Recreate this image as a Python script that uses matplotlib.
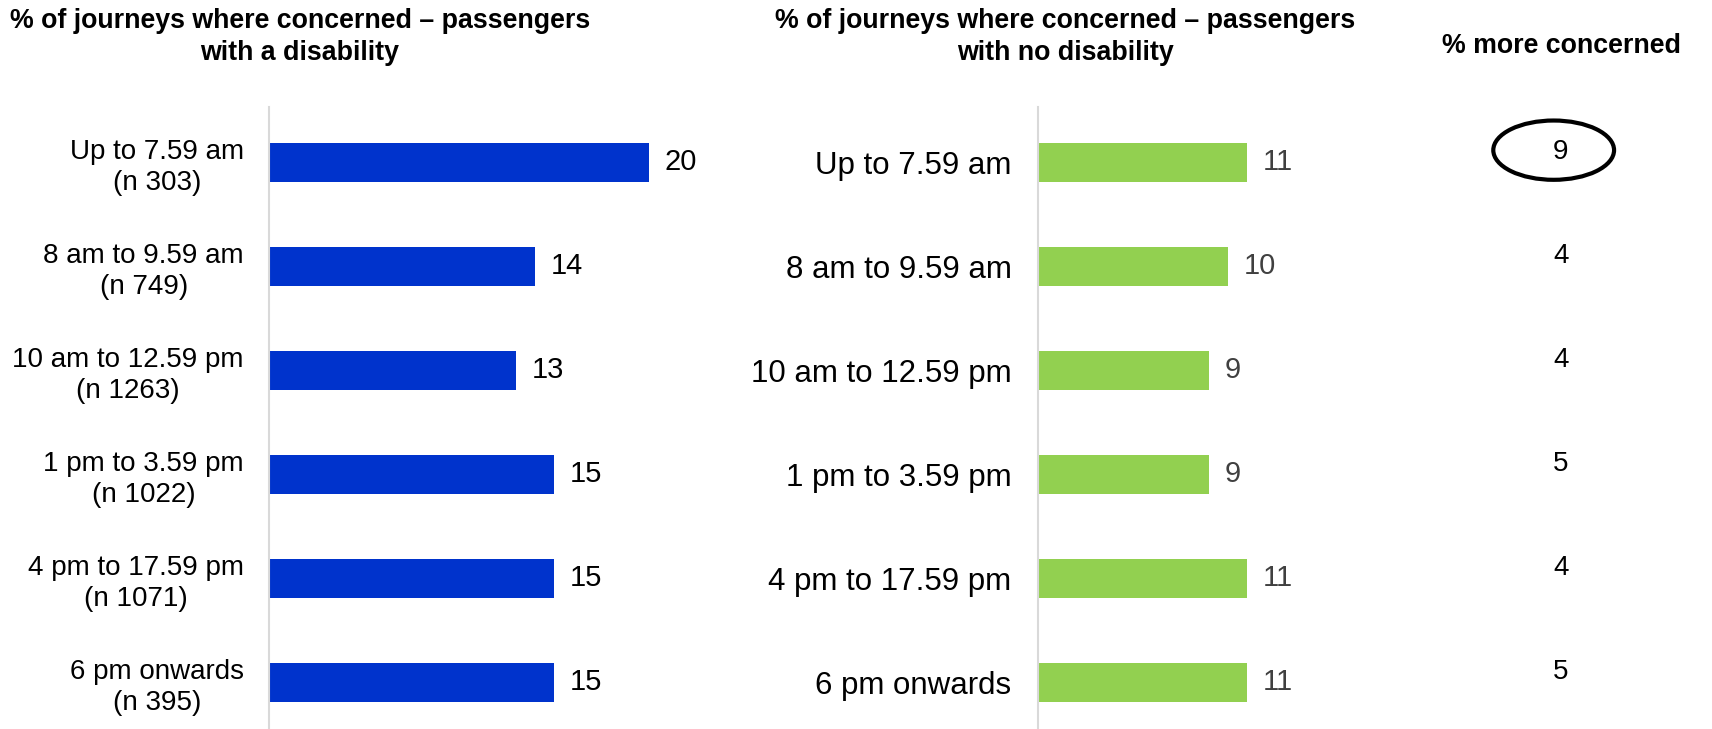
import matplotlib.pyplot as plt
from matplotlib.patches import Ellipse

plt.rcParams['font.family'] = ['Liberation Sans', 'DejaVu Sans']

periods = ['Up to 7.59 am', '8 am to 9.59 am', '10 am to 12.59 pm',
           '1 pm to 3.59 pm', '4 pm to 17.59 pm', '6 pm onwards']
sample_sizes = [303, 749, 1263, 1022, 1071, 395]
disability = [20, 14, 13, 15, 15, 15]
no_disability = [11, 10, 9, 9, 11, 11]
more_concerned = [9, 4, 4, 5, 4, 5]

W, H = 1712, 729
fig = plt.figure(figsize=(W / 100, H / 100), dpi=100)

px_per_unit = 19.0
top_px = 107
ylim = (5.45, -0.53)


def make_axes(x0_px, xmax):
    ax = fig.add_axes([x0_px / W, 0, xmax * px_per_unit / W, (H - top_px) / H])
    ax.set_xlim(0, xmax)
    ax.set_ylim(*ylim)
    for side in ['top', 'right', 'bottom']:
        ax.spines[side].set_visible(False)
    ax.spines['left'].set_color('#d9d9d9')
    ax.spines['left'].set_linewidth(1.5)
    ax.set_xticks([])
    return ax


y = list(range(len(periods)))

# passengers with a disability
ax1 = make_axes(269, 24)
ax1.barh(y, disability, height=0.375, color='#0033cc')
ax1.set_yticks(y, [f'{p}\n(n {n})' for p, n in zip(periods, sample_sizes)])
ax1.tick_params(axis='y', length=0, pad=18, labelsize=20)
for lbl in ax1.get_yticklabels():
    lbl.set_linespacing(1.22)
    lbl.set_multialignment('center')
for yi, v in zip(y, disability):
    ax1.annotate(str(v), (v, yi), xytext=(11, 0), textcoords='offset points',
                 va='center', ha='left', fontsize=21, color='black')

# passengers with no disability
ax2 = make_axes(1038, 16)
ax2.barh(y, no_disability, height=0.375, color='#92d050')
ax2.set_yticks(y, periods)
ax2.tick_params(axis='y', length=0, pad=19, labelsize=22.5)
for yi, v in zip(y, no_disability):
    ax2.annotate(str(v), (v, yi), xytext=(11, 0), textcoords='offset points',
                 va='center', ha='left', fontsize=21, color='#404040')

# difference column
ax3 = fig.add_axes([1500 / W, 0, 122 / W, (H - top_px) / H])
ax3.set_xlim(0, 1)
ax3.set_ylim(*ylim)
ax3.axis('off')
for yi, v in zip(y, more_concerned):
    ax3.text(0.5, yi - 0.1, str(v), ha='center', va='center', fontsize=20)
ax3.add_patch(Ellipse((0.44, -0.115), 0.99, 0.57, fill=False,
                      edgecolor='black', linewidth=3, clip_on=False))

title_kw = dict(ha='center', va='center', fontsize=19.3, fontweight='bold',
                linespacing=1.32)
fig.text(300 / W, 1 - 37 / H,
         '% of journeys where concerned \u2013 passengers\nwith a disability',
         **title_kw)
fig.text(1065 / W, 1 - 37 / H,
         '% of journeys where concerned \u2013 passengers\nwith no disability',
         **title_kw)
fig.text(1561 / W, 1 - 46 / H, '% more concerned', **title_kw)

fig.savefig('out.png', dpi=100)
